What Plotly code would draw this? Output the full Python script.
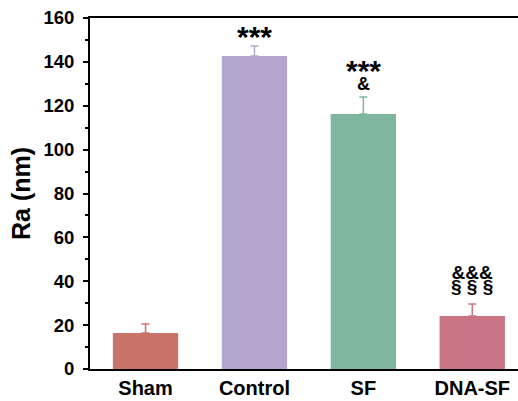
import plotly.graph_objects as go

# Surface roughness (Ra) per group
groups = ["Sham", "Control", "SF", "DNA-SF"]
ra_mean = [16.4, 142.7, 116.2, 24.2]
ra_sd = [4.1, 4.5, 7.8, 5.4]
bar_colors = ["#C9736B", "#B5A6CE", "#7FB6A0", "#C97586"]

FONT = "Arial, Liberation Sans, sans-serif"

fig = go.Figure()
for g, m, s, c in zip(groups, ra_mean, ra_sd, bar_colors):
    fig.add_trace(go.Bar(
        x=[g], y=[m], marker=dict(color=c, line=dict(width=0)),
        width=0.6,
        error_y=dict(type="data", array=[s], arrayminus=[0], symmetric=False,
                     color=c, thickness=1.5, width=4),
        showlegend=False,
    ))


def sized(txt, px):
    return f"<span style='font-size:{px}px'><b>{txt}</b></span>"


# Significance markers above the error bars; stacked lines share one annotation
# (group, text, base font size controlling line pitch, yshift)
markers = [
    ("Control", sized("***", 30), 30, -9),
    ("SF", sized("***", 30) + "<br>" + sized("&", 18), 7, 1),
    ("DNA-SF", sized("&&&", 19) + "<br>" + sized("§ § §", 19), 11, 5),
]
tops = {g: m + s for g, m, s in zip(groups, ra_mean, ra_sd)}
for g, txt, size, shift in markers:
    fig.add_annotation(x=g, y=tops[g], text=txt, showarrow=False, yanchor="bottom",
                       yshift=shift, font=dict(family=FONT, size=size, color="black"))

fig.update_layout(
    width=518, height=401,
    margin=dict(l=90, r=0, t=18, b=32),
    paper_bgcolor="white", plot_bgcolor="white",
    font=dict(family=FONT, color="black"),
    xaxis=dict(
        range=[-0.51, 3.42],
        showline=True, linecolor="black", linewidth=2, mirror=True,
        ticks="", showgrid=False, zeroline=False,
        tickfont=dict(family=FONT, size=20, color="black"),
        tickprefix="<b>", ticksuffix="</b>",
    ),
    yaxis=dict(
        range=[0, 160], dtick=20, tick0=0,
        showline=True, linecolor="black", linewidth=2,
        ticks="outside", ticklen=5, tickwidth=2, tickcolor="black",
        minor=dict(ticks="outside", ticklen=3, tickwidth=1.5, dtick=10, tickcolor="black"),
        showgrid=False, zeroline=False,
        tickfont=dict(family=FONT, size=18.5, color="black"),
        tickprefix="<b>", ticksuffix="</b>",
        ticklabelstandoff=5,
        title=dict(text="<b>Ra (nm)</b>", font=dict(family=FONT, size=25, color="black"),
                   standoff=6),
    ),
)

fig.write_html("out.html")
